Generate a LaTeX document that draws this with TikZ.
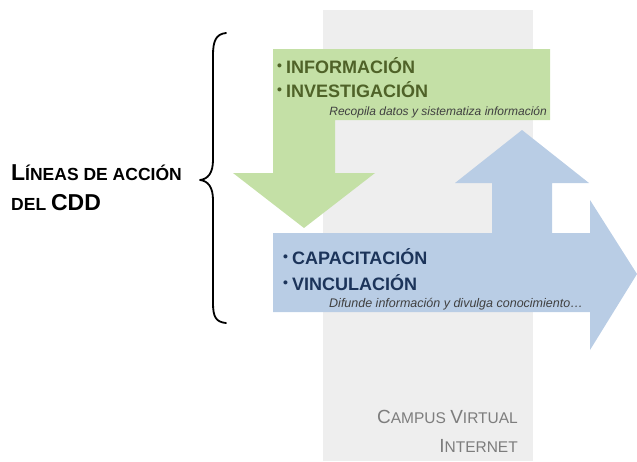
\documentclass[tikz,border=0pt]{standalone}
\usepackage{fontspec}
\setmainfont{Liberation Sans}
\definecolor{verde}{RGB}{196,224,166}
\definecolor{verdeosc}{RGB}{79,98,40}
\definecolor{azul}{RGB}{185,205,229}
\definecolor{azulosc}{RGB}{28,52,90}
\definecolor{gris}{RGB}{238,238,238}
\definecolor{grisosc}{RGB}{125,125,125}
\newcommand{\fs}[1]{\fontsize{#1}{#1}\selectfont}
\newcommand{\bul}{{\fs{14}\raisebox{2.8pt}{•}}\hspace{4pt}}
\begin{document}
\begin{tikzpicture}[x=1pt,y=-1pt,line join=round,every node/.style={inner sep=0pt},
	punto/.style={anchor=base west,font=\fs{18}\bfseries},
	nota/.style={anchor=base east,font=\fs{12}\itshape,text=black!75},
	campus/.style={anchor=base east,text=grisosc}]
		\useasboundingbox (0,0) rectangle (637,461);
		\fill[gris] (323,10) rectangle (533,461);
		\fill[verde] (273,49)--(550,49)--(550,120)--(335,120)--(335,173)--(375,173)--(304,228)--(233,173)--(273,173)--cycle;
		\fill[azul] (273,233)--(492,233)--(492,183)--(455,183)--(522,130)--(589,183)--(552,183)--(552,233)--(590,233)--(590,200)--(637,274)--(590,350)--(590,312)--(273,312)--cycle;
		\draw[line width=1.8pt,line cap=round] (226,33) .. controls (216,34) and (213,41) .. (213,55)--(213,160) .. controls (213,173) and (208,179) .. (200,180) .. controls (208,181) and (213,187) .. (213,200)--(213,303) .. controls (213,317) and (216,322) .. (226,323);
		\node[anchor=base west,font=\bfseries] (lineas) at (11,180) {{\fs{23}L}{\fs{17.5}ÍNEAS DE ACCIÓN}};
		\node[anchor=base west,font=\bfseries] (cdd) at (11,210) {{\fs{17.5}DEL }{\fs{23}CDD}};
		\node[punto,text=verdeosc] (info) at (277,73) {\bul INFORMACIÓN};
		\node[punto,text=verdeosc] (inves) at (277,97) {\bul INVESTIGACIÓN};
		\node[nota] (recop) at (547,115) {Recopila datos y sistematiza información};
		\node[punto,text=azulosc] (capac) at (283,264) {\bul CAPACITACIÓN};
		\node[punto,text=azulosc] (vincu) at (283,290) {\bul VINCULACIÓN};
		\node[nota,font=\fs{12.5}\itshape] (difun) at (583,307) {Difunde información y divulga conocimiento\ldots};
		\node[campus] (campus) at (518,423) {{\fs{19}C}{\fs{15.5}AMPUS }{\fs{19}V}{\fs{15.5}IRTUAL}};
		\node[campus] (internet) at (518,452) {{\fs{19}I}{\fs{15.5}NTERNET}};
		\end{tikzpicture}
\end{document}
